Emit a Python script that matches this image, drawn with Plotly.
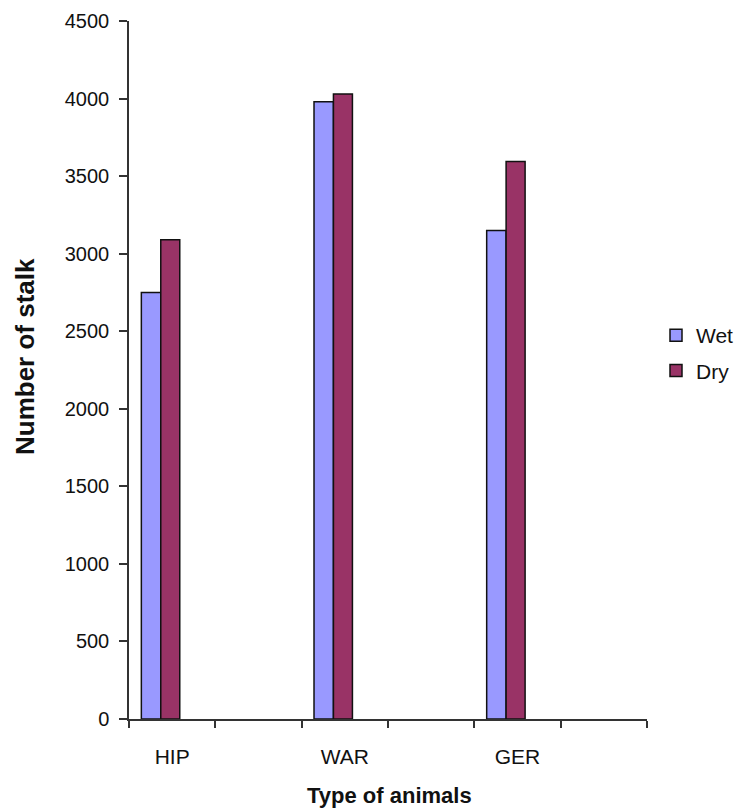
import plotly.graph_objects as go

# Data
categories = ["HIP", "WAR", "GER"]
axis_slots = ["HIP", " ", "WAR", "  ", "GER", "   "]
wet = [2750, 3980, 3150]
dry = [3090, 4030, 3595]
y_ticks = [0, 500, 1000, 1500, 2000, 2500, 3000, 3500, 4000, 4500]

FONT = "Liberation Sans, Arial, sans-serif"
L, R, T, B = 129, 92, 21, 92
W, H = 739, 811
pw = W - L - R
ph = H - T - B

fig = go.Figure()
fig.add_trace(go.Bar(
    x=categories, y=wet, name="Wet", width=0.225, offset=-0.357,
    marker=dict(color="#9999FF", line=dict(color="#111111", width=1.5)),
    legendgroup="wet",
))
fig.add_trace(go.Bar(
    x=categories, y=dry, name="Dry", width=0.22, offset=-0.132,
    marker=dict(color="#993366", line=dict(color="#111111", width=1.5)),
    legendgroup="dry",
))

axis_col = "#333333"
fig.update_layout(
    width=W, height=H,
    margin=dict(l=L, r=R, t=T, b=B, autoexpand=False),
    plot_bgcolor="white", paper_bgcolor="white",
    barmode="overlay",
    font=dict(family=FONT, size=19, color="#111111"),
    xaxis=dict(
        type="category", categoryorder="array", categoryarray=axis_slots,
        range=[-0.5, 5.5], tickson="boundaries",
        ticks="outside", ticklen=7, tickcolor=axis_col, tickwidth=1.5,
        showline=True, linecolor=axis_col, linewidth=1.5,
        showgrid=False, tickfont=dict(size=21), ticklabelstandoff=18,
    ),
    yaxis=dict(
        range=[0, 4500], tickvals=y_ticks,
        ticks="outside", ticklen=8, tickcolor=axis_col, tickwidth=1.5,
        showline=True, linecolor=axis_col, linewidth=1.5,
        showgrid=False, zeroline=False, tickfont=dict(size=20),
        ticklabelstandoff=6,
    ),
    legend=dict(
        x=(656 - L) / pw, y=(719 - 353) / ph, xanchor="left", yanchor="middle",
        font=dict(size=21), traceorder="grouped", tracegroupgap=5,
        bgcolor="rgba(0,0,0,0)",
    ),
    annotations=[
        dict(text="<b>Number of stalk</b>", xref="paper", yref="paper",
             x=(25 - L) / pw, y=(719 - 357) / ph, xanchor="center", yanchor="middle",
             textangle=-90, showarrow=False, font=dict(size=26, family=FONT, color="#111111")),
        dict(text="<b>Type of animals</b>", xref="paper", yref="paper",
             x=(389 - L) / pw, y=(719 - 795) / ph, xanchor="center", yanchor="middle",
             showarrow=False, font=dict(size=22, family=FONT, color="#111111")),
    ],
)

fig.write_html("out.html")
